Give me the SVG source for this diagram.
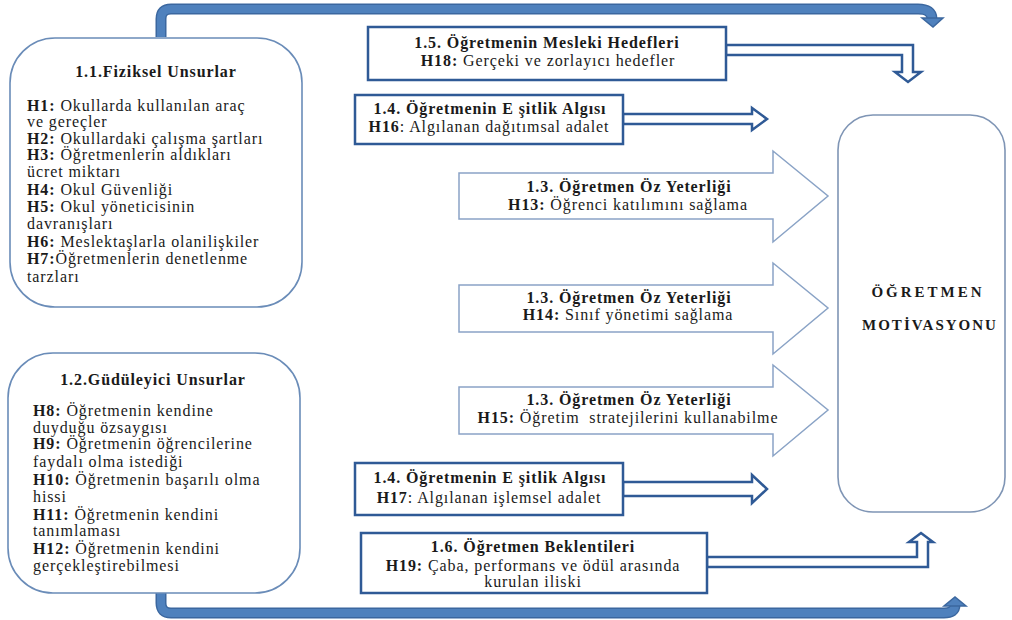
<svg xmlns="http://www.w3.org/2000/svg" width="1012" height="620" viewBox="0 0 1012 620" font-family="'Liberation Serif', 'DejaVu Serif', serif">
<style>
text{font-family:'Liberation Serif','DejaVu Serif',serif;fill:#1a1a1a;font-size:16px;letter-spacing:0.9px}
.b{font-weight:bold}
.c{text-anchor:middle}
.round{fill:#fff;stroke:#6a8cb8;stroke-width:1.6}
.rbox{fill:#fff;stroke:#2f5a96;stroke-width:2.5}
.block{fill:#fff;stroke:#8aa3c6;stroke-width:1.5}
.hollow{fill:#fff;stroke:#2f5a96;stroke-width:2.5;stroke-linejoin:miter}
.thickO{fill:none;stroke:#3b679f;stroke-width:11}
.thickI{fill:none;stroke:#4f81bd;stroke-width:8}
.head{fill:#4f81bd;stroke:#3b679f;stroke-width:1.5}
</style>
<rect width="1012" height="620" fill="#fff"/>
<g id="connectors">
<path class="thickO" d="M161,37 V19 Q161,9 171,9 H918 Q932,9 932,19"/>
<path class="thickI" d="M161,37 V19 Q161,9 171,9 H918 Q932,9 932,19"/>
<polygon class="head" points="922,18 943,18 933,27"/>
<path class="thickO" d="M161,592 V603 Q161,613 171,613 H944 Q955,613 955,605"/>
<path class="thickI" d="M161,592 V603 Q161,613 171,613 H944 Q955,613 955,605"/>
<polygon class="head" points="944,606 966,606 955,597"/>
<polygon class="hollow" points="726,45 913,45 913,72 921,72 908,82 895,72 902,72 902,55 726,55"/>
<polygon class="hollow" points="623,114 752,114 752,108 767,119 752,130 752,124 623,124"/>
<polygon class="hollow" points="623,482 752,482 752,475 767,489 752,503 752,496 623,496"/>
<polygon class="hollow" points="707,557 917,557 917,542 909,542 921,533 933,542 928,542 928,567 707,567"/>
</g>
<g id="n11">
<rect class="round" x="10" y="38" width="292" height="269" rx="45"/>
<text class="b c" x="156" y="77">1.1.Fiziksel Unsurlar</text>
<text x="27" y="111"><tspan class="b">H1:</tspan> Okullarda kullanılan araç</text>
<text x="27" y="127">ve gereçler</text>
<text x="27" y="144"><tspan class="b">H2:</tspan> Okullardaki çalışma şartları</text>
<text x="27" y="160"><tspan class="b">H3:</tspan> Öğretmenlerin aldıkları</text>
<text x="27" y="177">ücret miktarı</text>
<text x="27" y="195"><tspan class="b">H4:</tspan> Okul Güvenliği</text>
<text x="27" y="212"><tspan class="b">H5:</tspan> Okul yöneticisinin</text>
<text x="27" y="229">davranışları</text>
<text x="27" y="247"><tspan class="b">H6:</tspan> Meslektaşlarla olanilişkiler</text>
<text x="27" y="264"><tspan class="b">H7:</tspan>Öğretmenlerin denetlenme</text>
<text x="27" y="282">tarzları</text>
</g>
<g id="n12">
<rect class="round" x="8" y="353" width="292" height="240" rx="45"/>
<text class="b c" x="153" y="385">1.2.Güdüleyici Unsurlar</text>
<text x="33" y="416"><tspan class="b">H8:</tspan> Öğretmenin kendine</text>
<text x="33" y="433">duyduğu özsaygısı</text>
<text x="33" y="449"><tspan class="b">H9:</tspan> Öğretmenin öğrencilerine</text>
<text x="33" y="467">faydalı olma istediği</text>
<text x="33" y="485"><tspan class="b">H10:</tspan> Öğretmenin başarılı olma</text>
<text x="33" y="502">hissi</text>
<text x="33" y="520"><tspan class="b">H11:</tspan> Öğretmenin kendini</text>
<text x="33" y="536">tanımlaması</text>
<text x="33" y="554"><tspan class="b">H12:</tspan> Öğretmenin kendini</text>
<text x="33" y="571">gerçekleştirebilmesi</text>
</g>
<g id="n15">
<rect class="rbox" x="368" y="27" width="358" height="53"/>
<text class="b c" x="547" y="48">1.5. Öğretmenin Mesleki Hedefleri</text>
<text class="c" x="548" y="66"><tspan class="b">H18:</tspan> Gerçeki ve zorlayıcı hedefler</text>
</g>
<g id="n14a">
<rect class="rbox" x="355" y="95" width="268" height="49"/>
<text class="b c" x="490" y="114">1.4. Öğretmenin E şitlik Algısı</text>
<text class="c" x="489" y="132"><tspan class="b">H16</tspan>: Algılanan dağıtımsal adalet</text>
</g>
<g id="n13a">
<polygon class="block" points="459,173 773,173 773,151 828,196 773,242 773,219 459,219"/>
<text class="b c" x="629" y="192">1.3. Öğretmen Öz Yeterliği</text>
<text class="c" x="628" y="210"><tspan class="b">H13:</tspan> Öğrenci katılımını sağlama</text>
</g>
<g id="n13b">
<polygon class="block" points="459,285 773,285 773,263 828,308 773,354 773,332 459,332"/>
<text class="b c" x="629" y="303">1.3. Öğretmen Öz Yeterliği</text>
<text class="c" x="628" y="320"><tspan class="b">H14:</tspan> Sınıf yönetimi sağlama</text>
</g>
<g id="n13c">
<polygon class="block" points="459,387 773,387 773,365 828,410 773,456 773,434 459,434"/>
<text class="b c" x="629" y="405">1.3. Öğretmen Öz Yeterliği</text>
<text class="c" x="628" y="423" xml:space="preserve"><tspan class="b">H15:</tspan> Öğretim  stratejilerini kullanabilme</text>
</g>
<g id="n14b">
<rect class="rbox" x="355" y="463" width="268" height="52"/>
<text class="b c" x="490" y="483">1.4. Öğretmenin E şitlik Algısı</text>
<text class="c" x="489" y="503"><tspan class="b">H17</tspan>: Algılanan işlemsel adalet</text>
</g>
<g id="n16">
<rect class="rbox" x="361" y="533" width="346" height="60"/>
<text class="b c" x="533" y="552">1.6. Öğretmen Beklentileri</text>
<text class="c" x="533" y="571"><tspan class="b">H19:</tspan> Çaba, performans ve ödül arasında</text>
<text class="c" x="533" y="587">kurulan iliski</text>
</g>
<g id="motivasyon">
<rect x="838" y="115" width="167" height="397" rx="35" fill="#fff" stroke="#7f95b5" stroke-width="1.6"/>
<text class="b c" x="928" y="297" style="font-size:15px;letter-spacing:3px">ÖĞRETMEN</text>
<text class="b c" x="930" y="330" style="font-size:15px;letter-spacing:2px">MOTİVASYONU</text>
</g>
</svg>
